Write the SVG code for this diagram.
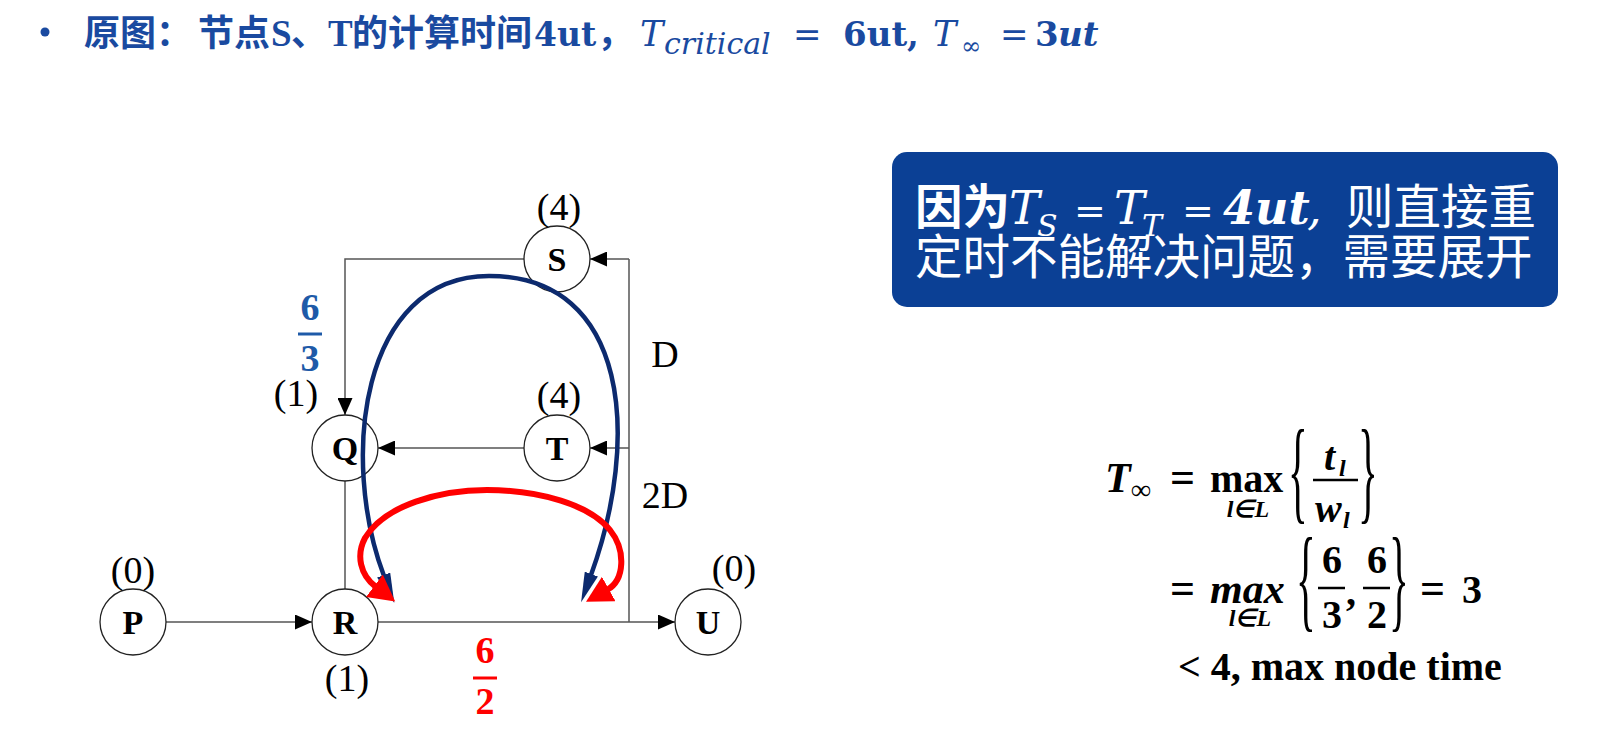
<svg xmlns="http://www.w3.org/2000/svg" width="1615" height="740" viewBox="0 0 1615 740">
<style>
.bg{fill:#ffffff}
.tc{font-family:"Noto Sans CJK SC","Noto Sans",sans-serif;font-weight:700;font-size:36px;fill:#1a4aa0}
.tl{font-family:"Liberation Serif",serif;font-weight:700;font-size:37px;fill:#1a4aa0}
.tm{font-family:"DejaVu Serif",serif;font-style:italic;fill:#1a4aa0}
.tb{font-family:"DejaVu Serif",serif;font-weight:700;fill:#1a4aa0}
.node circle{fill:#ffffff;stroke:#222222;stroke-width:1.3}
.node text{font-family:"Liberation Serif",serif;font-weight:700;font-size:34px;fill:#000;text-anchor:middle}
.lbl{font-family:"Liberation Serif",serif;font-size:38px;fill:#000;text-anchor:middle}
.edge{fill:none;stroke:#555555;stroke-width:1.5}
.frac{font-family:"Liberation Serif",serif;font-weight:700;font-size:38px;text-anchor:middle}
.bx{font-family:"Noto Sans CJK SC","Noto Sans",sans-serif;font-size:47.5px;fill:#ffffff}
.bm{font-family:"DejaVu Serif",serif;font-style:italic;fill:#ffffff}
.f{font-family:"Liberation Serif",serif;font-weight:700;fill:#000}
.fi{font-family:"Liberation Serif",serif;font-weight:700;font-style:italic;fill:#000}
.br{font-family:"Liberation Serif",serif;font-weight:400;font-size:114px;fill:#000}
</style>
<defs>
<marker id="ah" markerUnits="userSpaceOnUse" markerWidth="17" markerHeight="15" refX="17" refY="7.5" orient="auto">
<path d="M0,0 L17,7.5 L0,15 z" fill="#000"/>
</marker>
<marker id="ahBlue" markerUnits="userSpaceOnUse" markerWidth="32" markerHeight="14" refX="1" refY="7" orient="auto-start-reverse">
<path d="M0,0 L30,7 L0,14 z" fill="#0c2a6e"/>
</marker>
<marker id="ahRed" markerUnits="userSpaceOnUse" markerWidth="28" markerHeight="28" refX="2" refY="14" orient="auto-start-reverse">
<path d="M0,0 L26,14 L0,28 z" fill="#ff0000"/>
</marker>
</defs>
<rect class="bg" x="0" y="0" width="1615" height="740"/>

<g id="title">
<circle cx="45" cy="32" r="4.5" fill="#1a4aa0"/>
<text class="tc" x="84" y="46">原图：</text>
<text class="tc" x="198" y="46">节点</text>
<text class="tl" x="271" y="46">S</text>
<text class="tc" x="291" y="46">、</text>
<text class="tl" x="328" y="46">T</text>
<text class="tc" x="352" y="46">的计算时间</text>
<text class="tb" x="534" y="46" font-size="33">4ut</text>
<text class="tc" x="597" y="46">，</text>
<text class="tm" x="640" y="46" font-size="35">T</text>
<text class="tm" x="664" y="54" font-size="30">critical</text>
<text class="tm" x="793" y="46" font-size="34" font-style="normal">=</text>
<text class="tb" x="843" y="46" font-size="34">6ut,</text>
<text class="tm" x="933" y="46" font-size="35">T</text>
<text class="tm" x="961" y="54" font-size="24" font-style="normal">∞</text>
<text class="tm" x="1000" y="46" font-size="34" font-style="normal">=</text>
<text class="tb" x="1035" y="46" font-size="34">3</text>
<text class="tm" x="1058" y="46" font-size="34" font-weight="700">ut</text>
</g>

<g id="connectors">
<path class="edge" d="M524,259 H345 V415" marker-end="url(#ah)"/>
<path class="edge" d="M524,448 H378" marker-end="url(#ah)"/>
<path class="edge" d="M345,481 V589"/>
<path class="edge" d="M166,622 H312" marker-end="url(#ah)"/>
<path class="edge" d="M378,622 H675" marker-end="url(#ah)"/>
<path class="edge" d="M629,622 V259"/>
<path class="edge" d="M629,259 H590" marker-end="url(#ah)"/>
<path class="edge" d="M629,448 H590" marker-end="url(#ah)"/>
</g>

<g id="node-S" class="node"><circle cx="557" cy="259" r="33"/><text x="557" y="271">S</text></g>
<g id="node-T" class="node"><circle cx="557" cy="448" r="33"/><text x="557" y="460">T</text></g>
<g id="node-Q" class="node"><circle cx="345" cy="448" r="33"/><text x="345" y="460">Q</text></g>
<g id="node-R" class="node"><circle cx="345" cy="622" r="33"/><text x="345" y="634">R</text></g>
<g id="node-P" class="node"><circle cx="133" cy="622" r="33"/><text x="133" y="634">P</text></g>
<g id="node-U" class="node"><circle cx="708" cy="622" r="33"/><text x="708" y="634">U</text></g>

<g id="labels">
<text class="lbl" x="559" y="220">(4)</text>
<text class="lbl" x="559" y="408">(4)</text>
<text class="lbl" x="296" y="406">(1)</text>
<text class="lbl" x="133" y="583">(0)</text>
<text class="lbl" x="347" y="691">(1)</text>
<text class="lbl" x="734" y="581">(0)</text>
<text class="lbl" x="665" y="367">D</text>
<text class="lbl" x="665" y="508">2D</text>
</g>

<g id="weight-blue">
<text class="frac" x="310" y="320" fill="#1e5aa8">6</text>
<line x1="298" y1="334" x2="322" y2="334" stroke="#1e5aa8" stroke-width="3"/>
<text class="frac" x="310" y="371" fill="#1e5aa8">3</text>
</g>
<g id="weight-red">
<text class="frac" x="485" y="663" fill="#ff0000">6</text>
<line x1="473" y1="678" x2="497" y2="678" stroke="#ff0000" stroke-width="3"/>
<text class="frac" x="485" y="714" fill="#ff0000">2</text>
</g>

<g id="arcs">
<path d="M384,576 C340,460 360,276 489,276 C630,276 640,440 591,575" fill="none" stroke="#0c2a6e" stroke-width="4.5" marker-start="url(#ahBlue)" marker-end="url(#ahBlue)"/>
<path d="M376,587 C360,575 356,555 365,538 C385,505 440,490 487,490 C540,490 590,505 610,530 C626,550 625,580 607,590" fill="none" stroke="#ff0000" stroke-width="6" marker-start="url(#ahRed)" marker-end="url(#ahRed)"/>
</g>

<g id="callout">
<rect x="892" y="152" width="666" height="155" rx="15" ry="15" fill="#0b4095"/>
<text class="bx" x="915" y="224" font-weight="700">因为</text>
<text class="bm" x="1009" y="224" font-size="46">T</text>
<text class="bm" x="1037" y="236" font-size="30">S</text>
<text class="bm" x="1074" y="224" font-size="38" font-style="normal">=</text>
<text class="bm" x="1114" y="224" font-size="46">T</text>
<text class="bm" x="1142" y="236" font-size="30">T</text>
<text class="bm" x="1182" y="224" font-size="38" font-style="normal">=</text>
<text class="bm" x="1223" y="224" font-size="46" font-weight="700">4ut</text>
<text class="bm" x="1307" y="224" font-size="46" font-style="normal">,</text>
<text class="bx" x="1346" y="224">则直接重</text>
<text class="bx" x="915" y="274">定时不能解决问题，需要展开</text>
</g>

<g id="formula">
<text class="fi" x="1105" y="492" font-size="42">T</text>
<text class="f" x="1131" y="499" font-size="28" font-weight="400">∞</text>
<text class="f" x="1170" y="492" font-size="44" font-weight="400">=</text>
<text class="f" x="1210" y="492" font-size="40">max</text>
<text class="fi" x="1248" y="517" font-size="24" text-anchor="middle">l∈L</text>
<text class="br" transform="translate(1288,509) scale(0.36,1)">{</text>
<text class="fi" x="1324" y="470" font-size="40">t</text>
<text class="fi" x="1339" y="476" font-size="24">l</text>
<line x1="1313" y1="480" x2="1358" y2="480" stroke="#000" stroke-width="2.5"/>
<text class="fi" x="1315" y="522" font-size="40">w</text>
<text class="fi" x="1343" y="528" font-size="24">l</text>
<text class="br" transform="translate(1358,509) scale(0.36,1)">}</text>

<text class="f" x="1170" y="603" font-size="44" font-weight="400">=</text>
<text class="fi" x="1210" y="603" font-size="42">max</text>
<text class="fi" x="1250" y="626" font-size="24" text-anchor="middle">l∈L</text>
<text class="br" transform="translate(1296,617) scale(0.36,1)">{</text>
<text class="f" x="1332" y="573" font-size="40" text-anchor="middle">6</text>
<line x1="1318" y1="588" x2="1345" y2="588" stroke="#000" stroke-width="2.5"/>
<text class="f" x="1332" y="628" font-size="40" text-anchor="middle">3</text>
<text class="f" x="1346" y="605" font-size="40">,</text>
<text class="f" x="1377" y="573" font-size="40" text-anchor="middle">6</text>
<line x1="1363" y1="588" x2="1390" y2="588" stroke="#000" stroke-width="2.5"/>
<text class="f" x="1377" y="628" font-size="40" text-anchor="middle">2</text>
<text class="br" transform="translate(1389,617) scale(0.36,1)">}</text>
<text class="f" x="1420" y="603" font-size="44" font-weight="400">=</text>
<text class="f" x="1462" y="603" font-size="40">3</text>

<text class="f" x="1178" y="680" font-size="40">&lt; 4, max node time</text>
</g>
</svg>
